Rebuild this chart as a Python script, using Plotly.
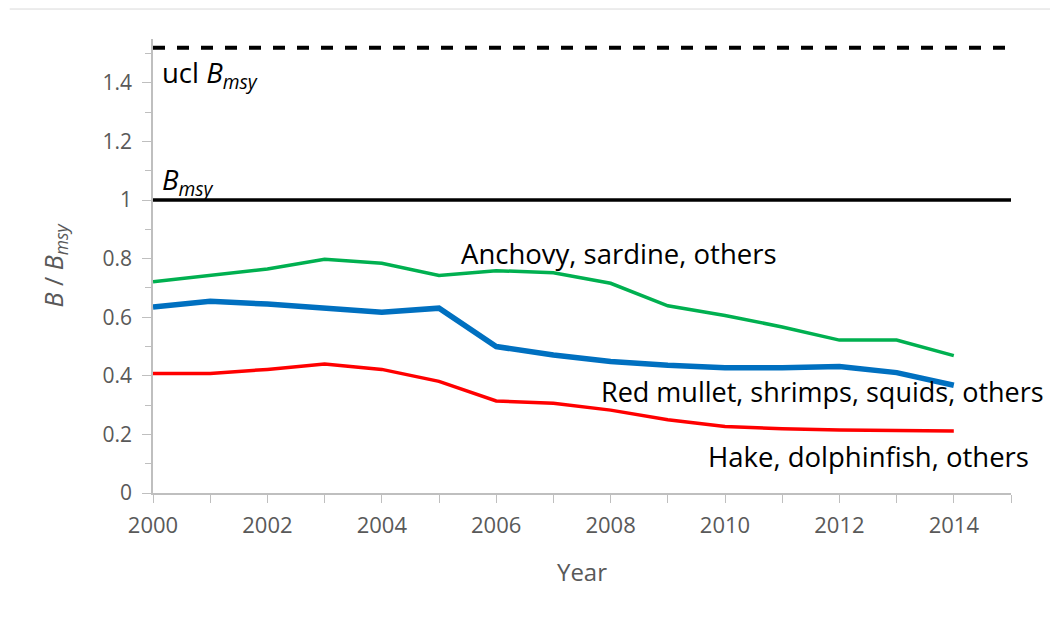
import plotly.graph_objects as go

years = list(range(2000, 2015))
ref_years = list(range(2000, 2016))

anchovy = [0.721, 0.742, 0.765, 0.798, 0.784, 0.743, 0.759, 0.752, 0.716, 0.639, 0.606, 0.567, 0.522, 0.522, 0.469]
red_mullet = [0.635, 0.655, 0.645, 0.631, 0.617, 0.631, 0.500, 0.471, 0.449, 0.436, 0.428, 0.428, 0.432, 0.411, 0.368]
hake = [0.408, 0.408, 0.422, 0.440, 0.422, 0.381, 0.314, 0.306, 0.283, 0.250, 0.227, 0.219, 0.215, 0.212, 0.212]
bmsy = [1.0] * len(ref_years)
ucl_bmsy = [1.52] * len(ref_years)

labels = {
    "ucl": "ucl <i>B</i><sub><i>msy</i></sub>",
    "bmsy": "<i>B</i><sub><i>msy</i></sub>",
    "anchovy": "Anchovy, sardine, others",
    "red": "Red mullet, shrimps, squids, others",
    "hake": "Hake, dolphinfish, others",
}

FONT = "Open Sans, Liberation Sans, sans-serif"
GRAY = "#595959"

fig = go.Figure()
fig.add_trace(go.Scatter(x=ref_years, y=ucl_bmsy, mode="lines",
                         line=dict(color="black", width=4, dash="dash"), showlegend=False))
fig.add_trace(go.Scatter(x=ref_years, y=bmsy, mode="lines",
                         line=dict(color="black", width=3.5), showlegend=False))
fig.add_trace(go.Scatter(x=years, y=anchovy, mode="lines",
                         line=dict(color="#00B050", width=3.5), showlegend=False))
fig.add_trace(go.Scatter(x=years, y=red_mullet, mode="lines",
                         line=dict(color="#0070C0", width=5.5), showlegend=False))
fig.add_trace(go.Scatter(x=years, y=hake, mode="lines",
                         line=dict(color="#FF0000", width=3.5), showlegend=False))

ann_font = dict(family=FONT, size=27.5, color="black")
fig.add_annotation(x=2000.12, y=1.43, text=labels["ucl"], showarrow=False, xanchor="left", font=ann_font)
fig.add_annotation(x=2000.12, y=1.065, text=labels["bmsy"], showarrow=False, xanchor="left", font=ann_font)
fig.add_annotation(x=2005.35, y=0.816, text=labels["anchovy"], showarrow=False, xanchor="left", font=ann_font)
fig.add_annotation(x=2007.8, y=0.345, text=labels["red"], showarrow=False, xanchor="left",
                   font=dict(family=FONT, size=27, color="black"))
fig.add_annotation(x=2009.67, y=0.123, text=labels["hake"], showarrow=False, xanchor="left", font=ann_font)

fig.add_shape(type="line", xref="paper", yref="paper", x0=-0.167, x1=1.07, y0=1.066, y1=1.066,
              line=dict(color="#D9D9D9", width=1))

axis_line = "#BFBFBF"
fig.update_layout(
    width=1058, height=619,
    margin=dict(l=145, r=55, t=31, b=134),
    paper_bgcolor="white", plot_bgcolor="white",
    font=dict(family=FONT, color=GRAY),
    xaxis=dict(
        range=[2000, 2015], tickmode="linear", tick0=2000, dtick=2,
        ticks="outside", ticklen=8, tickcolor=axis_line,
        minor=dict(dtick=1, ticks="outside", ticklen=8, tickcolor=axis_line),
        showline=True, linecolor=axis_line, linewidth=1.5,
        showgrid=False, zeroline=False,
        ticklabelstandoff=4,
        tickfont=dict(size=22, color=GRAY),
        title=dict(text="Year", font=dict(size=24, color=GRAY), standoff=26),
    ),
    yaxis=dict(
        range=[0, 1.55], tickmode="array",
        tickvals=[0, 0.2, 0.4, 0.6, 0.8, 1.0, 1.2, 1.4],
        ticktext=["0", "0.2", "0.4", "0.6", "0.8", "1", "1.2", "1.4"],
        ticks="outside", ticklen=9, tickcolor=axis_line,
        minor=dict(tickvals=[0.1, 0.3, 0.5, 0.7, 0.9, 1.1, 1.3, 1.5], ticks="outside", ticklen=6, tickcolor=axis_line),
        showline=True, linecolor=axis_line, linewidth=1.5,
        showgrid=False, zeroline=False,
        ticklabelstandoff=6,
        tickfont=dict(size=21, color=GRAY),
        title=dict(text="<i>B</i> / <i>B</i><sub><i>msy</i></sub>", font=dict(size=25, color=GRAY), standoff=32),
    ),
)

fig.write_html("out.html")
